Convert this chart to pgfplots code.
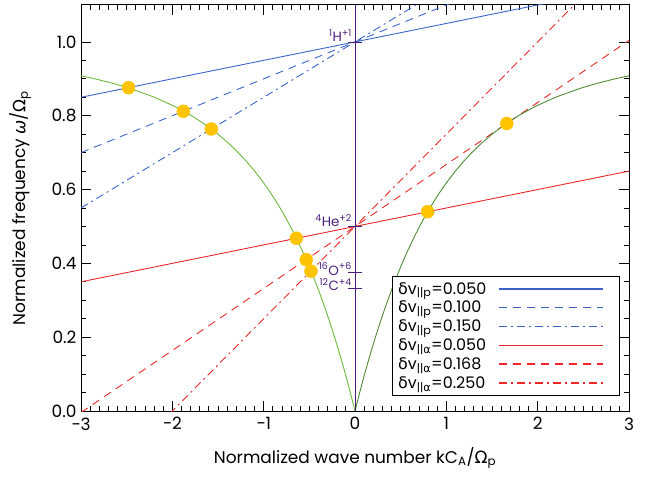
\documentclass[border=0pt]{standalone}
\usepackage{fontspec}
\setmainfont{Poppins}
\newfontfamily\gr{DejaVu Sans}
\usepackage{pgfplots}
\usepackage{pgfplotstable}
\pgfplotsset{compat=1.18}

\definecolor{lblue}{RGB}{60,100,200}
\definecolor{lred}{RGB}{235,40,40}
\definecolor{lgreen}{RGB}{110,185,60}
\definecolor{dgreen}{RGB}{80,140,55}
\definecolor{gold}{RGB}{255,195,0}
\definecolor{ionpurple}{RGB}{75,30,125}

% dispersion branch: k = w/sqrt(1-w), tabulated
\pgfplotstableread{
k w
0.00000 0.000
0.02532 0.025
0.05130 0.050
0.07798 0.075
0.10541 0.100
0.13363 0.125
0.16270 0.150
0.19267 0.175
0.22361 0.200
0.25558 0.225
0.28868 0.250
0.32297 0.275
0.35857 0.300
0.39558 0.325
0.43412 0.350
0.47434 0.375
0.51640 0.400
0.56047 0.425
0.60678 0.450
0.65556 0.475
0.70711 0.500
0.76175 0.525
0.81991 0.550
0.88201 0.575
0.94868 0.600
1.02062 0.625
1.09870 0.650
1.18402 0.675
1.27802 0.700
1.38253 0.725
1.50000 0.750
1.63385 0.775
1.78885 0.800
1.97215 0.825
2.19469 0.850
2.47487 0.875
2.64600 0.8875
2.84605 0.900
3.03333 0.910
}\branch

\begin{document}
\begin{tikzpicture}
\begin{axis}[
    width=548bp, height=406bp, scale only axis,
    xmin=-3, xmax=3, ymin=0, ymax=1.1,
    xtick={-3,-2,-1,0,1,2,3},
    xticklabels={−3,−2,−1,0,1,2,3},
    ytick={0,0.2,0.4,0.6,0.8,1.0},
    yticklabels={0.0,0.2,0.4,0.6,0.8,1.0},
    minor x tick num=9, minor y tick num=3,
    tick align=inside,
    major tick length=10bp, minor tick length=5bp,
    tick style={black, line width=0.8pt},
    axis line style={line width=1pt},
    font=\fontsize{17}{19}\selectfont,
    xticklabel style={yshift=-3bp},
    yticklabel style={xshift=-1bp},
    xlabel={Normalized wave number kC\textsubscript{A}/{\gr Ω}\textsubscript{p}},
    ylabel={Normalized frequency {\gr\itshape ω}/{\gr Ω}\textsubscript{p}},
    xlabel style={at={(axis description cs:0.5,-0.116)}, anchor=center},
    ylabel style={at={(axis description cs:-0.111,0.5)}, anchor=center},
    legend style={at={(0.9836,0.037)}, anchor=south east, draw=black,
        line width=0.8pt, font=\fontsize{16}{18}\selectfont,
        legend plot pos=right, row sep=1.5bp, inner xsep=4bp, inner ysep=4bp,
        column sep=10bp},
    legend cell align=left,
    legend image code/.code={\draw[#1] (0bp,0bp) -- (104bp,0bp); \path (116bp,0bp);},
]
% legend, with fixed styles
\addlegendimage{draw=lblue, line width=1.3pt, solid}
\addlegendentry{{\gr δ}v\textsubscript{||p}=0.050}
\addlegendimage{draw=lblue, line width=1.3pt, dash pattern=on 8bp off 6bp}
\addlegendentry{{\gr δ}v\textsubscript{||p}=0.100}
\addlegendimage{draw=lblue, line width=1.3pt, dash pattern=on 8bp off 4bp on 2bp off 4bp}
\addlegendentry{{\gr δ}v\textsubscript{||p}=0.150}
\addlegendimage{draw=lred, line width=1.3pt, solid}
\addlegendentry{{\gr δ}v\textsubscript{||{\gr α}}=0.050}
\addlegendimage{draw=lred, line width=1.3pt, dash pattern=on 8bp off 6bp}
\addlegendentry{{\gr δ}v\textsubscript{||{\gr α}}=0.168}
\addlegendimage{draw=lred, line width=1.3pt, dash pattern=on 8bp off 4bp on 2bp off 4bp}
\addlegendentry{{\gr δ}v\textsubscript{||{\gr α}}=0.250}

\addplot[color=lblue, line width=0.9pt, forget plot] coordinates {(-3,0.85) (3,1.15)};
\addplot[color=lblue, line width=0.9pt, dash pattern=on 8bp off 6bp, forget plot] coordinates {(-3,0.70) (3,1.30)};
\addplot[color=lblue, line width=0.9pt, dash pattern=on 8bp off 4bp on 2bp off 4bp, forget plot] coordinates {(-3,0.55) (3,1.45)};
\addplot[color=lred, line width=0.9pt, forget plot] coordinates {(-3,0.35) (3,0.65)};
\addplot[color=lred, line width=0.9pt, dash pattern=on 8bp off 6bp, forget plot] coordinates {(-3,-0.004) (3,1.004)};
\addplot[color=lred, line width=0.9pt, dash pattern=on 8bp off 4bp on 2bp off 4bp, forget plot] coordinates {(-3,-0.25) (3,1.25)};

\addplot[lgreen, line width=0.9pt, forget plot] table[x expr=-\thisrow{k}, y=w] {\branch};
\addplot[dgreen, line width=0.9pt, forget plot] table[x=k, y=w] {\branch};

\addplot[ionpurple, line width=0.8pt, forget plot] coordinates {(0,0) (0,1.1)};
\addplot[ionpurple, only marks, mark=-, mark size=7bp, mark options={line width=0.8pt}, forget plot]
    coordinates {(0,1.0) (0,0.5) (0,0.375) (0,0.333)};

\addplot[only marks, mark=*, mark size=6.5bp, mark options={fill=gold, draw=gold}, forget plot]
    coordinates {(-2.48,0.876) (-1.88,0.812) (-1.573,0.764) (-0.642,0.468)
                 (0.796,0.540) (-0.534,0.410) (1.662,0.779) (-0.482,0.379)};

\begin{scope}[every node/.style={anchor=base east, ionpurple, inner sep=0pt, xshift=-3bp,
        font=\fontsize{13.5}{15}\selectfont}]
\node at (axis cs:0,1.0) {\textsuperscript{1}H\textsuperscript{+1}};
\node at (axis cs:0,0.5) {\textsuperscript{4}He\textsuperscript{+2}};
\node at (axis cs:0,0.368) {\textsuperscript{16}O\textsuperscript{+6}};
\node at (axis cs:0,0.327) {\textsuperscript{12}C\textsuperscript{+4}};
\end{scope}

\coordinate (bl) at (rel axis cs:0,0);
\coordinate (tr) at (rel axis cs:1,1);
\end{axis}
\path ([shift={(-81bp,-66bp)}]bl) rectangle ([shift={(33bp,5bp)}]tr);
\end{tikzpicture}
\end{document}
